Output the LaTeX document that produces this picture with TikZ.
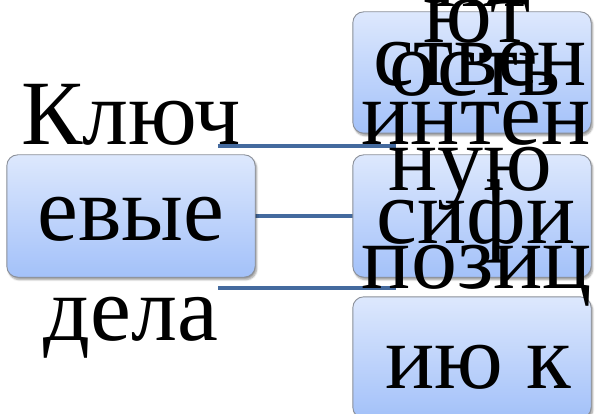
\documentclass[tikz,border=0pt]{standalone}
\usepackage{fontspec}
\setmainfont{Liberation Serif}
\usetikzlibrary{shadows.blur}
\definecolor{boxtop}{HTML}{DDE8FD}
\definecolor{boxbot}{HTML}{A3C1F9}
\definecolor{boxedge}{HTML}{8A8F98}
\definecolor{linkcol}{HTML}{446A9E}
\tikzset{
  smbox/.style={draw=boxedge, line width=0.9pt, rounded corners=11pt,
    top color=boxtop, bottom color=boxbot, inner sep=0pt, outer sep=0pt,
    blur shadow={shadow xshift=1.5pt, shadow yshift=-2.5pt, shadow blur steps=6, shadow opacity=40}},
  bigtxt/.style={anchor=base, inner sep=0pt, outer sep=0pt, font=\fontsize{92}{92}\selectfont, text=black},
  link/.style={draw=linkcol, line width=4.5pt}
}
\begin{document}
\begin{tikzpicture}[x=1pt,y=1pt]
\useasboundingbox (0,0) rectangle (596,-414);
\begin{scope}
\clip (0,0) rectangle (596,-414);
% connector end points
\coordinate (l1a) at (218,-146);
\coordinate (l1b) at (396,-146);
\coordinate (l3a) at (218,-288);
\coordinate (l3b) at (396,-288);
% box anchors
\node[inner sep=0pt, minimum width=248pt, minimum height=122pt] (root) at (131,-216) {};
\node[inner sep=0pt, minimum width=238pt, minimum height=121pt] (c1) at (472,-72.5) {};
\node[inner sep=0pt, minimum width=238pt, minimum height=122pt] (c2) at (472,-216) {};
\node[inner sep=0pt, minimum width=238pt, minimum height=121pt] (c3) at (472,-357.5) {};
% connectors
\draw[link] (l1a) -- (l1b);
\draw[link] (l3a) -- (l3b);
\draw[link] (root.east) -- (c2.west);
% boxes
\path[smbox] (root.south west) rectangle (root.north east);
\path[smbox] (c1.south west) rectangle (c1.north east);
\path[smbox] (c2.south west) rectangle (c2.north east);
\path[smbox] (c3.south west) rectangle (c3.north east);
% left texts
\node[bigtxt] (t1) at (131,-145) {Ключ};
\node[bigtxt] (t2) at (131,-240) {евые};
\node[bigtxt] (t3) at (131,-340) {дела};
% right texts
\node[bigtxt] (r0) at (480,-7) {ня};
\node[bigtxt] (r1) at (477,-43) {ют};
\node[bigtxt] (r2) at (480,-86) {ствен};
\node[bigtxt] (r3) at (475,-96) {ость};
\node[bigtxt] (r4) at (476,-145) {интен};
\node[bigtxt] (r5) at (470,-190) {ную};
\node[bigtxt] (r6) at (476,-243) {сифи};
\node[bigtxt] (r7) at (477,-288) {позиц};
\node[bigtxt] (r8) at (478,-388) {ию к};
\end{scope}
\end{tikzpicture}
\end{document}
